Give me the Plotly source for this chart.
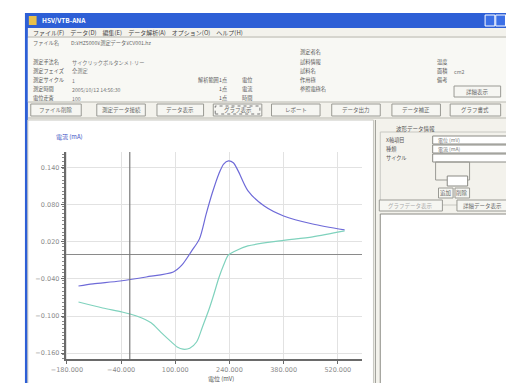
import plotly.graph_objects as go

W, H = 514, 383
OFF = 8  # page body margin

# ---- data (potential mV, current mA) ----
fwd_potential = [-150, -112.5, -42.5, 25, 95, 117.5, 142.5, 162.5, 180, 195, 212.5, 225, 237.5, 250, 262.5, 287.5, 330, 380, 455, 537.5]
fwd_current = [-0.0514, -0.048, -0.0433, -0.0368, -0.0287, -0.0173, 0.0054, 0.0249, 0.0654, 0.0979, 0.130, 0.146, 0.151, 0.148, 0.135, 0.103, 0.078, 0.062, 0.049, 0.0395]
rev_potential = [537.5, 455, 370, 287.5, 255, 237.5, 225, 212.5, 200, 187.5, 170, 155, 137.5, 120, 105, 87.5, 62.5, 37.5, 0, -37.5, -87.5, -150]
rev_current = [0.0378, 0.0281, 0.0216, 0.0135, 0.0054, -0.0011, -0.0173, -0.0384, -0.0643, -0.0887, -0.118, -0.142, -0.152, -0.1536, -0.150, -0.1406, -0.126, -0.111, -0.100, -0.0935, -0.087, -0.0773]
x_ticks = [-180, -40, 100, 240, 380, 520]
y_ticks = [0.140, 0.080, 0.020, -0.040, -0.100, -0.160]
cursor_potential = -17.5

JP = "Noto Sans CJK JP"

def px(x):
    return (x - OFF) / W

def py(y):
    return 1 - (y - OFF) / H

shapes = []
annos = []

def box(x0, y0, x1, y1, fill, line=None, lw=1, dash=None):
    d = dict(type="rect", xref="paper", yref="paper", x0=px(x0), x1=px(x1), y0=py(y1), y1=py(y0),
             fillcolor=fill, line=dict(width=lw if line else 0, color=line or fill), layer="below")
    if dash:
        d["line"]["dash"] = dash
    shapes.append(d)

def hline(x0, x1, y, color, lw=1):
    shapes.append(dict(type="line", xref="paper", yref="paper", x0=px(x0), x1=px(x1), y0=py(y), y1=py(y),
                       line=dict(color=color, width=lw), layer="below"))

def vline(x, y0, y1, color, lw=1):
    shapes.append(dict(type="line", xref="paper", yref="paper", x0=px(x), x1=px(x), y0=py(y0), y1=py(y1),
                       line=dict(color=color, width=lw), layer="below"))

def text(x, y, s, size=6, color="#555", anchor="left", bold=False):
    if bold:
        s = "<b>" + s + "</b>"
    annos.append(dict(x=px(x), y=py(y), xref="paper", yref="paper", text=s, showarrow=False,
                      xanchor=anchor, yanchor="middle", font=dict(family=JP, size=size, color=color)))

def button(x0, y0, x1, y1, label, dashed=False, color="#666"):
    box(x0, y0, x1, y1, "#f6f6f2", "#9a9a94")
    if dashed:
        box(x0 + 2, y0 + 2, x1 - 2, y1 - 2, "rgba(0,0,0,0)", "#777", 1, "dot")
    text((x0 + x1) / 2, (y0 + y1) / 2, label, 5.5, color, "center")

# window background
box(0, 0, 530, 400, "#ffffff")
box(10, 13, 530, 400, "#f3f2ec")
# title bar
box(10, 13, 530, 28, "#2d5fd6")
box(14, 16, 22, 25, "#e8c04a")
text(25, 20.5, "HSV/VTB-ANA", 6.5, "#ffffff", bold=True)
box(484, 15, 494, 26, "#3b6fe6", "#ffffff")
box(495, 15, 505, 26, "#3b6fe6", "#ffffff")
box(505, 15, 514, 26, "#d9542c", "#ffffff")
# blue window borders
box(10, 28, 13, 400, "#2d5fd6")
box(512, 28, 530, 400, "#2d5fd6")
# menu
text(16, 32.5, "ファイル(F)　データ(D)　編集(E)　データ解析(A)　オプション(O)　ヘルプ(H)", 6, "#444")
hline(13, 512, 37, "#b9b8b0")
# info panel
box(13, 38, 512, 102, "#f8f8f4")
text(16, 43, "ファイル名", 5.2, "#666")
text(55, 43, "D:¥HZ5000¥測定データ¥CV001.hz", 5.2, "#666")
for yy, lab, val in [(62, "測定手法名", "サイクリックボルタンメトリー"), (71, "測定フェイズ", "全測定"),
                     (80, "測定サイクル", "1"), (89, "測定時間", "2005/10/12 14:56:30"), (98, "電位走査", "100")]:
    text(16, yy, lab, 5.2, "#555")
    text(56, yy, val, 5.2, "#777")
text(186, 80, "解析範囲", 5.2, "#555")
text(208, 80, "1点", 5.2, "#555")
text(232, 80, "電位", 5.2, "#555")
text(208, 89, "1点", 5.2, "#555")
text(232, 89, "電流", 5.2, "#555")
text(208, 98, "1点", 5.2, "#555")
text(232, 98, "時間", 5.2, "#555")
for yy, lab in [(52, "測定者名"), (62, "試料情報"), (71, "試料名"), (80, "作用極"), (89, "参照電極名")]:
    text(291, yy, lab, 5.2, "#555")
text(432, 62, "温度", 5.2, "#555")
text(432, 71, "面積", 5.2, "#555")
text(450, 71, "cm2", 5.2, "#777")
text(432, 80, "備考", 5.2, "#555")
button(452, 86, 500, 97, "詳細表示")
hline(13, 512, 102, "#b9b8b0")
# button row
for x0, x1, lab, dsh in [(16, 68, "ファイル削除", False), (84, 134, "測定データ接続", False),
                         (146, 194, "データ表示", False), (204, 254, "グラフ表示", True),
                         (264, 314, "レポート", False), (326, 376, "データ出力", False),
                         (388, 438, "データ補正", False), (448, 500, "グラフ書式", False)]:
    button(x0, 104, x1, 116, lab, dsh)
hline(13, 512, 118, "#b9b8b0")
# chart panel
box(13, 120, 369, 400, "#ffffff", "#c8c8c2")
# right panel
box(371, 120, 512, 400, "#f3f2ec")
vline(371, 120, 400, "#9a9a94")
text(390, 129, "波形データ情報", 5.5, "#555")
box(376, 132, 510, 205, "rgba(0,0,0,0)", "#c8c8c2")
text(380, 140, "X軸項目", 5.2, "#555")
text(380, 149, "種類", 5.2, "#555")
text(380, 158, "サイクル", 5.2, "#555")
box(430, 136, 508, 144, "#ffffff", "#8a8a84")
text(433, 140, "電位 (mV)", 5, "#777")
box(430, 145, 508, 153, "#ffffff", "#8a8a84")
text(433, 149, "電流 (mA)", 5, "#777")
box(430, 154, 508, 162, "#ffffff", "#8a8a84")
box(433, 162, 468, 180, "rgba(0,0,0,0)", "#9a9a94")
box(445, 176, 466, 186, "#ffffff", "#8a8a84")
button(436, 188, 451, 198, "追加")
button(453, 188, 468, 198, "削除")
button(375, 200, 440, 211, "グラフデータ表示", color="#aaa")
button(455, 200, 508, 211, "詳細データ表示")
box(376, 214, 510, 400, "#ffffff", "#8a8a84")

# chart texts
text(40, 136, "電流 (mA)", 6, "#3a4fc4")
text(196, 378, "電位 (mV)", 6, "#555")

# cursor line
shapes.append(dict(type="line", xref="x", yref="paper", x0=cursor_potential, x1=cursor_potential,
                   y0=py(359), y1=py(152), line=dict(color="#7a7a7a", width=1.2)))

fig = go.Figure()
fig.add_trace(go.Scatter(x=fwd_potential, y=fwd_current, mode="lines", line=dict(color="#6e6ad8", width=1.2, shape="spline", smoothing=0.8)))
fig.add_trace(go.Scatter(x=rev_potential, y=rev_current, mode="lines", line=dict(color="#7fd2bd", width=1.2, shape="spline", smoothing=0.8)))

fig.update_layout(
    width=W, height=H, margin=dict(l=0, r=0, t=0, b=0),
    paper_bgcolor="#ffffff", plot_bgcolor="#ffffff", showlegend=False,
    shapes=shapes, annotations=annos,
    xaxis=dict(domain=[px(52), px(357)], range=[-183, 582], tickvals=x_ticks, tickformat=".3f",
               showgrid=True, gridcolor="#e2e2e2", gridwidth=1, zeroline=False,
               showline=True, linecolor="#6a6a6a", linewidth=2, ticks="outside", ticklen=3, tickcolor="#6a6a6a",
               tickfont=dict(family="DejaVu Sans", size=6.5, color="#8a8a8a")),
    yaxis=dict(domain=[py(359), py(152)], range=[-0.1695, 0.1655], tickvals=y_ticks, tickformat=".3f",
               showgrid=True, gridcolor="#e2e2e2", gridwidth=1,
               zeroline=True, zerolinecolor="#8a8a8a", zerolinewidth=1.3,
               showline=True, linecolor="#6a6a6a", linewidth=2, ticks="outside", ticklen=3, tickcolor="#6a6a6a",
               minor=dict(dtick=0.006, ticklen=2, tickcolor="#8a8a8a", ticks="outside", showgrid=False),
               tickfont=dict(family="DejaVu Sans", size=6.5, color="#8a8a8a")),
)

fig.write_html("out.html")
